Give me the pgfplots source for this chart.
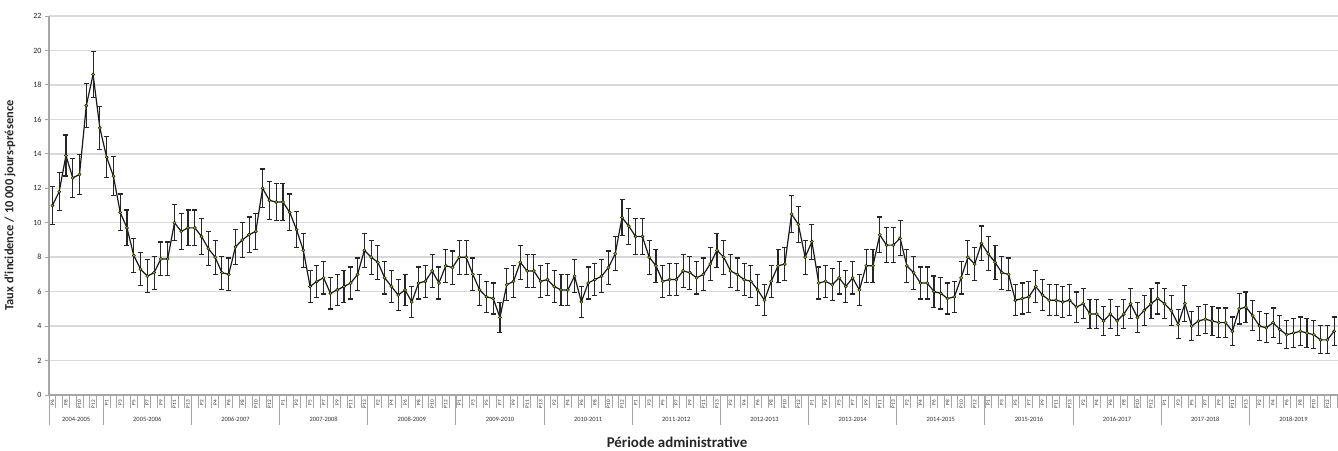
\documentclass[border=0pt]{standalone}
\usepackage{fontspec}
\setmainfont{Carlito}
\usepackage{pgfplots}
\usepackage{pgfplotstable}
\pgfplotsset{compat=1.18}
\definecolor{markgreen}{HTML}{8DBB25}
\definecolor{axgray}{HTML}{A6A6A6}
\definecolor{gridgray}{HTML}{D9D9D9}
\pgfplotstableread{
x y e
0 11.0 1.08
1 11.8 1.11
2 13.9 1.19
3 12.6 1.14
4 12.8 1.15
5 16.8 1.29
6 18.6 1.35
7 15.5 1.24
8 13.8 1.18
9 12.7 1.14
10 10.6 1.07
11 9.7 1.04
12 8.1 0.98
13 7.3 0.96
14 6.9 0.94
15 7.1 0.95
16 7.9 0.98
17 7.9 0.98
18 10.0 1.05
19 9.5 1.03
20 9.7 1.04
21 9.7 1.04
22 9.2 1.02
23 8.5 1.00
24 8.0 0.98
25 7.1 0.95
26 7.0 0.95
27 8.6 1.00
28 9.0 1.02
29 9.3 1.03
30 9.5 1.03
31 12.0 1.12
32 11.3 1.10
33 11.2 1.09
34 11.2 1.09
35 10.6 1.07
36 9.6 1.04
37 8.4 0.99
38 6.3 0.92
39 6.6 0.93
40 6.8 0.94
41 5.9 0.91
42 6.1 0.91
43 6.3 0.92
44 6.5 0.93
45 7.0 0.95
46 8.4 0.99
47 8.0 0.98
48 7.7 0.97
49 6.8 0.94
50 6.3 0.92
51 5.8 0.90
52 6.1 0.91
53 5.4 0.89
54 6.5 0.93
55 6.6 0.93
56 7.2 0.95
57 6.5 0.93
58 7.5 0.96
59 7.4 0.96
60 8.0 0.98
61 8.0 0.98
62 7.0 0.95
63 6.1 0.91
64 5.7 0.90
65 5.6 0.90
66 4.5 0.86
67 6.4 0.92
68 6.6 0.93
69 7.7 0.97
70 7.2 0.95
71 7.2 0.95
72 6.6 0.93
73 6.7 0.93
74 6.3 0.92
75 6.1 0.91
76 6.1 0.91
77 6.9 0.94
78 5.4 0.89
79 6.5 0.93
80 6.7 0.93
81 6.9 0.94
82 7.4 0.96
83 8.2 0.99
84 10.3 1.06
85 9.8 1.04
86 9.2 1.02
87 9.2 1.02
88 8.0 0.98
89 7.5 0.96
90 6.6 0.93
91 6.7 0.93
92 6.7 0.93
93 7.2 0.95
94 7.1 0.95
95 6.8 0.94
96 7.0 0.95
97 7.6 0.97
98 8.4 0.99
99 8.0 0.98
100 7.2 0.95
101 7.0 0.95
102 6.7 0.93
103 6.6 0.93
104 6.1 0.91
105 5.5 0.89
106 6.6 0.93
107 7.5 0.96
108 7.6 0.97
109 10.5 1.07
110 9.9 1.05
111 8.0 0.98
112 8.9 1.01
113 6.5 0.93
114 6.6 0.93
115 6.4 0.92
116 6.8 0.94
117 6.3 0.92
118 6.8 0.94
119 6.1 0.91
120 7.5 0.96
121 7.5 0.96
122 9.3 1.03
123 8.7 1.00
124 8.7 1.00
125 9.1 1.02
126 7.5 0.96
127 7.1 0.95
128 6.5 0.93
129 6.5 0.93
130 6.0 0.91
131 5.9 0.91
132 5.6 0.90
133 5.7 0.90
134 6.8 0.94
135 8.0 0.98
136 7.6 0.97
137 8.8 1.01
138 8.2 0.99
139 7.7 0.97
140 7.1 0.95
141 7.0 0.95
142 5.5 0.89
143 5.6 0.90
144 5.7 0.90
145 6.3 0.92
146 5.8 0.90
147 5.5 0.89
148 5.5 0.89
149 5.4 0.89
150 5.5 0.89
151 5.1 0.88
152 5.3 0.88
153 4.7 0.86
154 4.7 0.86
155 4.3 0.85
156 4.7 0.86
157 4.3 0.85
158 4.7 0.86
159 5.3 0.88
160 4.5 0.86
161 4.9 0.87
162 5.3 0.88
163 5.6 0.90
164 5.3 0.88
165 4.9 0.87
166 4.1 0.84
167 5.3 1.05
168 4.0 0.84
169 4.3 0.85
170 4.4 0.85
171 4.3 0.85
172 4.2 0.85
173 4.2 0.85
174 3.7 0.83
175 5.0 0.88
176 5.1 0.88
177 4.6 0.86
178 4.0 0.84
179 3.9 0.84
180 4.2 0.85
181 3.8 0.83
182 3.5 0.82
183 3.6 0.83
184 3.7 0.83
185 3.6 0.83
186 3.5 0.82
187 3.2 0.81
188 3.2 0.81
189 3.7 0.83
}\data
\begin{document}
\begin{tikzpicture}
\begin{axis}[
  at={(0,0)}, anchor=south west,
  scale only axis, width=1288.5bp, height=379bp,
  xmin=-0.5, xmax=189.5, ymin=0, ymax=22,
  clip=false,
  axis x line*=bottom, axis y line*=left,
  axis line style={axgray, line width=1.1bp, -},
  ytick={0,2,...,22},
  ymajorgrids, grid style={gridgray, line width=1.5bp},
  tick align=outside,
  major tick length=4bp,
  ytick style={axgray, line width=0.9bp},
  yticklabel style={font=\fontsize{8}{8}\selectfont, text=black!85},
  /pgf/number format/assume math mode=true,
  xtick={0,2,...,188},
  xticklabels={P6,P8,P10,P12,
    P1,P3,P5,P7,P9,P11,P13,P2,P4,P6,P8,P10,P12,
    P1,P3,P5,P7,P9,P11,P13,P2,P4,P6,P8,P10,P12,
    P1,P3,P5,P7,P9,P11,P13,P2,P4,P6,P8,P10,P12,
    P1,P3,P5,P7,P9,P11,P13,P2,P4,P6,P8,P10,P12,
    P1,P3,P5,P7,P9,P11,P13,P2,P4,P6,P8,P10,P12,
    P1,P3,P5,P7,P9,P11,P13,P2,P4,P6,P8,P10,P12,
    P1,P3,P5,P7,P9,P11,P13,P2,P4,P6,P8,P10,P12},
  major x tick style={draw=none},
  minor xtick={-0.5,0.5,...,189.5},
  minor tick length=13bp,
  minor x tick style={axgray, line width=0.7bp},
  xticklabel style={rotate=90, anchor=east, font=\fontsize{5.2}{5.2}\selectfont, inner sep=1bp, text=black!85},
  xlabel={Période administrative},
  xlabel style={at={(axis description cs:0.4874,-0.124)}, anchor=center, inner sep=0pt, font=\bfseries\fontsize{15}{15}\selectfont, text=black!85},
  ylabel={Taux d'incidence / 10 000 jours-présence},
  ylabel style={at={(axis description cs:-0.03027,0.5)}, anchor=center, font=\bfseries\fontsize{12.5}{12.5}\selectfont, text=black!85},
]
\addplot[draw=black!90, line width=1.2bp, mark=none,
  error bars/.cd, y dir=both, y explicit,
  error bar style={line width=1.1bp, black!85},
  error mark options={rotate=90, mark size=2.5bp, line width=1.1bp, black!85}]
  table[x=x, y=y, y error=e]{\data};
\addplot[only marks, mark=*, mark size=1.6bp, mark options={fill=markgreen, draw=none}]
  table[x=x, y=y]{\data};
\pgfplotsinvokeforeach{-0.5,7.5,20.5,33.5,46.5,59.5,72.5,85.5,98.5,111.5,124.5,137.5,150.5,163.5,176.5}{
  \draw[axgray, line width=0.9bp] (axis cs:#1,0) -- ([yshift=-30bp]axis cs:#1,0);
}
\tikzset{yl/.style={yshift=-24bp, font=\fontsize{6.5}{6.5}\selectfont, text=black!80}}
\node[yl] at (axis cs:3.5,0) {2004-2005};
\node[yl] at (axis cs:14,0) {2005-2006};
\node[yl] at (axis cs:27,0) {2006-2007};
\node[yl] at (axis cs:40,0) {2007-2008};
\node[yl] at (axis cs:53,0) {2008-2009};
\node[yl] at (axis cs:66,0) {2009-2010};
\node[yl] at (axis cs:79,0) {2010-2011};
\node[yl] at (axis cs:92,0) {2011-2012};
\node[yl] at (axis cs:105,0) {2012-2013};
\node[yl] at (axis cs:118,0) {2013-2014};
\node[yl] at (axis cs:131,0) {2014-2015};
\node[yl] at (axis cs:144,0) {2015-2016};
\node[yl] at (axis cs:157,0) {2016-2017};
\node[yl] at (axis cs:170,0) {2017-2018};
\node[yl] at (axis cs:183,0) {2018-2019};
\end{axis}
\pgfresetboundingbox
\path[use as bounding box] (-49bp,-56bp) rectangle (1289bp,395bp);
\end{tikzpicture}
\end{document}
